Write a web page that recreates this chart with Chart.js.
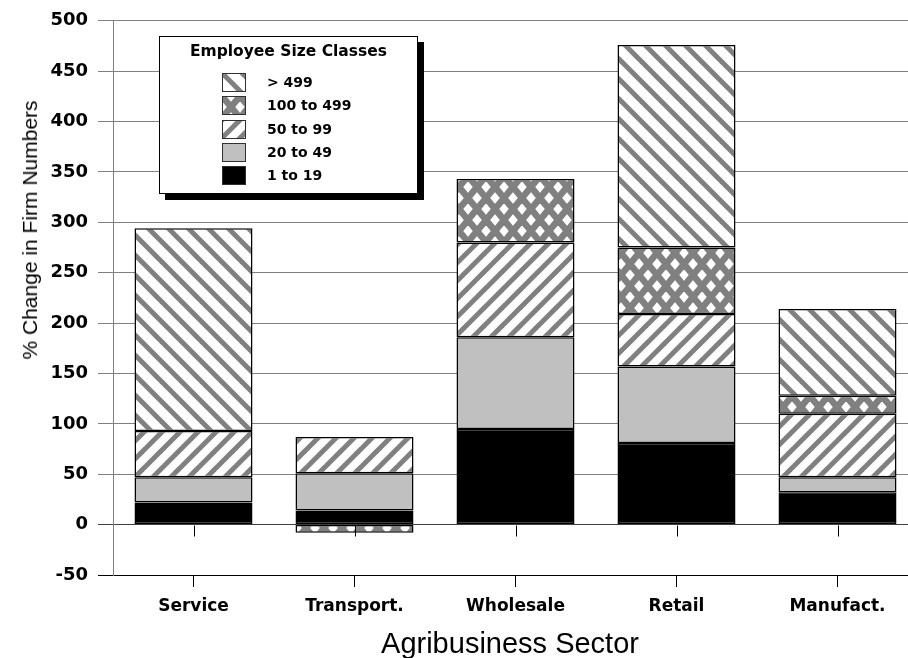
<!DOCTYPE html>
<html><head><meta charset="utf-8">
<script src="https://cdn.jsdelivr.net/npm/chart.js@4.4.0/dist/chart.umd.min.js"></script>
<style>
html,body{margin:0;padding:0;background:#fff;overflow:hidden;width:908px;height:658px;}
#wrap{position:relative;width:908px;height:658px;overflow:hidden;}
#c{position:absolute;left:0;top:0;}
#legend{position:absolute;left:159px;top:36px;width:257px;height:156px;border:1px solid #000;background:#fff;box-shadow:6px 6px 0 #000;font-family:"DejaVu Sans",sans-serif;font-weight:bold;color:#000;}
#legend .title{position:absolute;left:0;width:100%;top:5px;text-align:center;font-size:15.5px;line-height:18px;}
#legend .sw{position:absolute;left:62px;width:24px;height:19px;}
#legend .lb{position:absolute;left:107px;font-size:14px;line-height:19px;}
#ytitle{position:absolute;left:30px;top:230px;transform:translate(-50%,-50%) rotate(-90deg);white-space:nowrap;font-family:"Liberation Sans",Arial,sans-serif;font-size:21px;color:#000;}
#xtitle{position:absolute;left:510px;top:643px;transform:translate(-50%,-50%);white-space:nowrap;font-family:"Liberation Sans",Arial,sans-serif;font-size:29px;color:#000;}
</style></head>
<body>
<div id="wrap">
<canvas id="c" width="925" height="658"></canvas>
<div id="ytitle">% Change in Firm Numbers</div>
<div id="xtitle">Agribusiness Sector</div>
<div id="legend"><div class="title">Employee Size Classes</div></div>
</div>
<script>
const categories = ['Service', 'Transport.', 'Wholesale', 'Retail', 'Manufact.'];
const size1to19    = [22, 14, 95, 81, 32];
const size20to49   = [25, 37, 91, 76, 15];
const size50to99   = [46, 36, 94, 52, 63];
const size100to499 = [null, -8, 63, 66, 18];
const sizeOver499  = [201, null, null, 201, 86];
const seriesLabels = ['1 to 19', '20 to 49', '50 to 99', '100 to 499', '> 499'];
const yTicksMin = -50, yTicksMax = 500, yStep = 50;

function stripeTile(dir, period, lw) {
  const c = document.createElement('canvas'); c.width = period; c.height = period;
  const g = c.getContext('2d');
  g.fillStyle = '#fff'; g.fillRect(0, 0, period, period);
  g.strokeStyle = '#808080'; g.lineWidth = lw;
  for (let k = -3; k <= 3; k++) {
    g.beginPath();
    if (dir === 'back') { g.moveTo(k * period - period, -period); g.lineTo(k * period + 2 * period, 2 * period); }
    else { g.moveTo(k * period - period, 2 * period); g.lineTo(k * period + 2 * period, -period); }
    g.stroke();
  }
  return c;
}
function crossTile(W, H, lw) {
  const c = document.createElement('canvas'); c.width = W; c.height = H;
  const g = c.getContext('2d');
  g.fillStyle = '#fff'; g.fillRect(0, 0, W, H);
  g.strokeStyle = '#808080'; g.lineWidth = lw;
  for (let k = -2; k <= 2; k++) {
    for (let m = -2; m <= 2; m++) {
      g.beginPath(); g.moveTo(k * W, m * H); g.lineTo(k * W + W, m * H + H); g.stroke();
      g.beginPath(); g.moveTo(k * W + W, m * H); g.lineTo(k * W, m * H + H); g.stroke();
    }
  }
  return c;
}
function solidTile(col) {
  const c = document.createElement('canvas'); c.width = 4; c.height = 4;
  const g = c.getContext('2d'); g.fillStyle = col; g.fillRect(0, 0, 4, 4); return c;
}
const tiles = [solidTile('#000000'), solidTile('#c0c0c0'), stripeTile('fwd', 18, 5), crossTile(18, 22, 6.5), stripeTile('back', 20, 5)];
const cctx = document.getElementById('c').getContext('2d');
const fills = tiles.map(t => cctx.createPattern(t, 'repeat'));
const seriesData = [size1to19, size20to49, size50to99, size100to499, sizeOver499];

const datasets = seriesData.map((d, i) => ({
  label: seriesLabels[i], data: d, backgroundColor: fills[i],
  borderColor: '#000', borderWidth: 1.5, borderSkipped: false,
  barPercentage: 0.733, categoryPercentage: 1.0
}));

const zeroTicks = {
  id: 'zeroTicks',
  afterDatasetsDraw(chart) {
    const x = chart.scales.x, y = chart.scales.y, g = chart.ctx;
    const y0 = Math.round(y.getPixelForValue(0)) + 0.5;
    g.save(); g.strokeStyle = '#000'; g.lineWidth = 1;
    categories.forEach((c, i) => {
      const px = Math.round(x.getPixelForValue(i)) + 0.5;
      g.beginPath(); g.moveTo(px, y0); g.lineTo(px, y0 + 11); g.stroke();
    });
    g.restore();
  }
};

new Chart(document.getElementById('c'), {
  type: 'bar',
  data: { labels: categories, datasets },
  options: {
    responsive: false, devicePixelRatio: 1, animation: false,
    layout: { padding: { top: 17, right: 7, left: 0, bottom: 0 } },
    plugins: { legend: { display: false }, tooltip: { enabled: false } },
    scales: {
      x: {
        stacked: true, offset: true,
        grid: { display: true, drawOnChartArea: false, offset: false, tickLength: 12, color: '#000' },
        border: { display: true, color: '#000', width: 1 },
        ticks: { font: { family: 'DejaVu Sans', weight: 'bold', size: 17 }, color: '#000', padding: 9, maxRotation: 0 },
        afterFit(s) { s.height = 83; }
      },
      y: {
        stacked: true, min: yTicksMin, max: yTicksMax,
        ticks: { stepSize: yStep, font: { family: 'DejaVu Sans', weight: 'bold', size: 18 }, color: '#000', padding: 10 },
        grid: {
          tickLength: 15,
          color(c) { const v = c.tick ? c.tick.value : null; if (v === -50) return '#000'; if (v === 0) return '#404040'; return '#808080'; }
        },
        border: { display: true, color: '#808080', width: 1 },
        afterFit(s) { s.width = 113; }
      }
    }
  },
  plugins: [zeroTicks]
});

// HTML legend (reverse order)
const leg = document.getElementById('legend');
const rowTops = [36, 59, 83, 106, 129];
for (let r = 0; r < 5; r++) {
  const i = 4 - r;
  const sw = document.createElement('canvas'); sw.width = 24; sw.height = 19; sw.className = 'sw';
  sw.style.top = rowTops[r] + 'px';
  const g = sw.getContext('2d');
  g.fillStyle = g.createPattern(tiles[i], 'repeat'); g.fillRect(0, 0, 24, 19);
  g.strokeStyle = '#303030'; g.lineWidth = 1; g.strokeRect(0.5, 0.5, 23, 18);
  leg.appendChild(sw);
  const lb = document.createElement('div'); lb.className = 'lb'; lb.textContent = seriesLabels[i];
  lb.style.top = rowTops[r] + 'px';
  leg.appendChild(lb);
}
</script>
</body></html>
